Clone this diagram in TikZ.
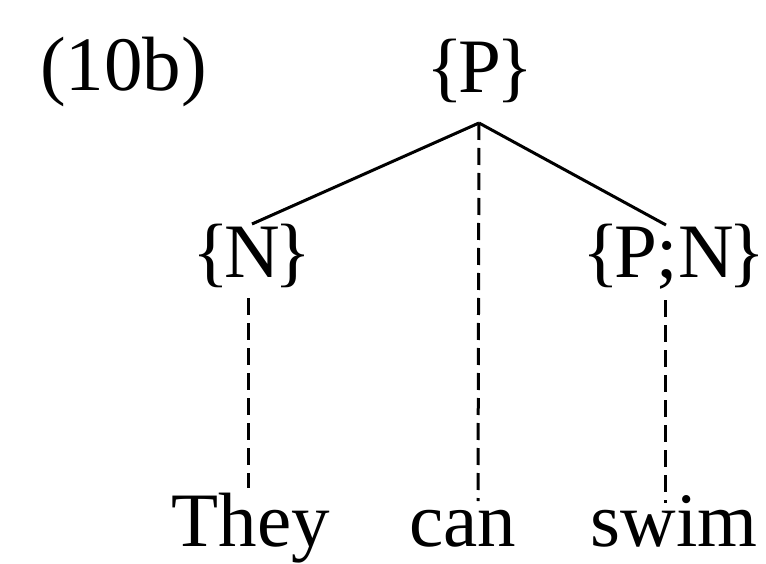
\documentclass[tikz,border=0pt]{standalone}
\usepackage{fontspec}
\setmainfont{Liberation Serif}
\newcommand{\lb}{\{\kern-5pt}
\newcommand{\rb}{\kern-5pt\}}
\begin{document}
\begin{tikzpicture}[x=1pt,y=-1pt,
  lab/.style={font=\fontsize{77}{84}\selectfont, inner sep=0pt, anchor=base},
  tree/.style={line width=3pt},
  dsh/.style={line width=3pt, dash pattern=on 17pt off 8pt}]
\useasboundingbox (0,0) rectangle (766,564);
\node[lab, anchor=base west] (ex) at (40,91) {(10b)};
\node[lab] (P) at (480,93) {\lb P\rb};
\node[lab] (N) at (252,278) {\lb N\rb};
\node[lab] (PN) at (674,278) {\lb P;N\rb};
\node[lab] (they) at (251,546) {They};
\node[lab] (can) at (463,546) {can};
\node[lab] (swim) at (674,546) {swim};
\coordinate (apex) at (479,123);
\coordinate (Ntop) at (252,224);
\coordinate (PNtop) at (666,225);
\coordinate (Nbot) at (248,298);
\coordinate (theytop) at (248,488);
\coordinate (cantop) at (478,501);
\coordinate (PNbot) at (665,300);
\coordinate (swimtop) at (665,503);
\draw[tree] (apex) -- (Ntop);
\draw[tree] (apex) -- (PNtop);
\draw[dsh] (apex) -- (cantop);
\draw[dsh] (Nbot) -- (theytop);
\draw[dsh] (PNbot) -- (swimtop);
\end{tikzpicture}
\end{document}
